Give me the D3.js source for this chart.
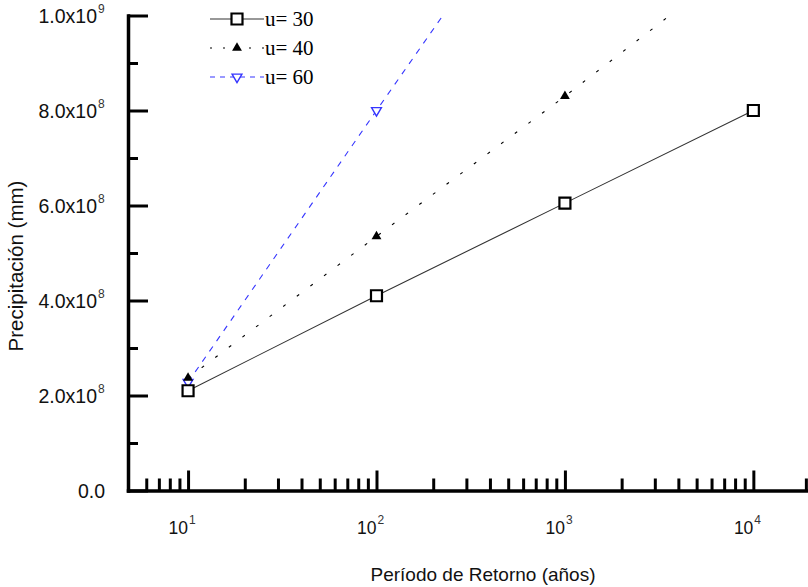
<!DOCTYPE html>
<html>
<head>
<meta charset="utf-8">
<script src="https://cdn.jsdelivr.net/npm/d3@7"></script>
<style>
  body { margin: 0; background: #fff; }
  svg { display: block; }
</style>
</head>
<body>
<div id="chart"></div>
<script>

// ---- data ----
const periods = [10, 100, 1000, 10000];
const u30 = [2.1e8, 4.1e8, 6.05e8, 8.0e8];
const u40 = [2.37e8, 5.35e8, 8.3e8];
const u60 = [2.28e8, 8.0e8];
// where the dotted / dashed lines leave the top of the frame
const u40End = [3600, 1.0e9];
const u60End = [225, 1.0e9];
const seriesNames = ['u= 30', 'u= 40', 'u= 60'];

const yTicks = [0, 1e8, 2e8, 3e8, 4e8, 5e8, 6e8, 7e8, 8e8, 9e8, 1e9];
const yLabelTicks = [0, 2e8, 4e8, 6e8, 8e8, 1e9];
const yLabelBase = ['0.0', '2.0x10', '4.0x10', '6.0x10', '8.0x10', '1.0x10'];
const yLabelExp = ['', '8', '8', '8', '8', '9'];

const xMajor = [10, 100, 1000, 10000];
const xMinor = [6, 7, 8, 9, 20, 30, 40, 50, 60, 70, 80, 90,
  200, 300, 400, 500, 600, 700, 800, 900,
  2000, 3000, 4000, 5000, 6000, 7000, 8000, 9000, 19000];
const xLabelExp = ['1', '2', '3', '4'];

const W = 808, H = 587;
const sans = 'Arial, "Liberation Sans", sans-serif';
const serif = '"Times New Roman", "Liberation Serif", serif';
const blue = '#3535ff';

const svg = d3.select('#chart').append('svg')
  .attr('width', W)
  .attr('height', H)
  .attr('viewBox', [0, 0, W, H]);

const xScale = d3.scaleLog()
  .domain([4.8, 19500])
  .range([128, 808]);

const yScale = d3.scaleLinear()
  .domain([0, 1e9])
  .range([490.5, 15.5]);

// ---- axes ----
const xAxis = svg.append('g')
  .attr('transform', 'translate(0,' + yScale(0) + ')')
  .call(d3.axisBottom(xScale)
    .tickValues(xMinor.concat(xMajor))
    .tickSize(-12)
    .tickSizeOuter(0)
    .tickFormat(''));

xAxis.selectAll('.tick line')
  .attr('stroke', '#000')
  .attr('stroke-width', 3)
  .attr('y2', d => xMajor.indexOf(d) != -1 ? -20 : -12);

const yAxis = svg.append('g')
  .attr('transform', 'translate(' + xScale(4.8) + ',0)')
  .call(d3.axisLeft(yScale)
    .tickValues(yTicks)
    .tickSize(-10)
    .tickSizeOuter(0)
    .tickFormat(''));

yAxis.selectAll('.tick line')
  .attr('stroke', '#000')
  .attr('stroke-width', 3)
  .attr('x2', d => yLabelTicks.indexOf(d) != -1 ? 20 : 10);

svg.selectAll('.domain')
  .attr('stroke', '#000')
  .attr('stroke-width', 3.5)
  .attr('stroke-linecap', 'square');

// y tick labels with superscript exponents
yLabelTicks.forEach((v, i) => {
  const yy = yScale(v) + 7;
  const hasExp = yLabelExp[i] != '';
  svg.append('text')
    .attr('x', hasExp ? 97 : 105)
    .attr('y', yy)
    .attr('text-anchor', 'end')
    .attr('font-family', sans)
    .attr('font-size', 19.5)
    .attr('fill', '#111')
    .text(yLabelBase[i]);
  if (hasExp) {
    svg.append('text')
      .attr('x', 98)
      .attr('y', yy - 10)
      .attr('font-family', sans)
      .attr('font-size', 12)
      .attr('fill', '#333')
      .text(yLabelExp[i]);
  }
});

// x tick labels 10^n
xMajor.forEach((v, i) => {
  const xx = xScale(v);
  svg.append('text')
    .attr('x', xx)
    .attr('y', 534)
    .attr('text-anchor', 'end')
    .attr('font-family', sans)
    .attr('font-size', 17.5)
    .attr('fill', '#111')
    .text('10');
  svg.append('text')
    .attr('x', xx + 1)
    .attr('y', 524)
    .attr('font-family', sans)
    .attr('font-size', 12)
    .attr('fill', '#333')
    .text(xLabelExp[i]);
});

// axis titles
svg.append('text')
  .attr('x', 483)
  .attr('y', 581)
  .attr('text-anchor', 'middle')
  .attr('font-family', sans)
  .attr('font-size', 19)
  .attr('fill', '#111')
  .text('Período de Retorno (años)');

svg.append('text')
  .attr('transform', 'translate(23,266) rotate(-90)')
  .attr('text-anchor', 'middle')
  .attr('font-family', sans)
  .attr('font-size', 20.5)
  .attr('fill', '#111')
  .text('Precipitación (mm)');

// ---- series ----
const line = d3.line()
  .x(d => xScale(d[0]))
  .y(d => yScale(d[1]));

const pts30 = u30.map((v, i) => [periods[i], v]);
const pts40 = u40.map((v, i) => [periods[i], v]);
const pts60 = u60.map((v, i) => [periods[i], v]);

svg.append('path')
  .datum(pts30)
  .attr('d', line)
  .attr('fill', 'none')
  .attr('stroke', '#333')
  .attr('stroke-width', 1.1);

svg.append('path')
  .datum(pts40.concat([u40End]))
  .attr('d', line)
  .attr('fill', 'none')
  .attr('stroke', '#000')
  .attr('stroke-width', 1.1)
  .attr('stroke-dasharray', '3,14');

svg.append('path')
  .datum(pts60.concat([u60End]))
  .attr('d', line)
  .attr('fill', 'none')
  .attr('stroke', blue)
  .attr('stroke-width', 1.1)
  .attr('stroke-dasharray', '6,6.5');

const square = d3.symbol(d3.symbolSquare, 121);
const triangle = d3.symbol(d3.symbolTriangle, 42);

const drawSquare = (g, xx, yy) => g.append('path')
  .attr('d', square)
  .attr('transform', 'translate(' + xx + ',' + yy + ')')
  .attr('fill', '#fff')
  .attr('stroke', '#000')
  .attr('stroke-width', 2.2);

const drawUp = (g, xx, yy) => g.append('path')
  .attr('d', triangle)
  .attr('transform', 'translate(' + xx + ',' + yy + ')')
  .attr('fill', '#000');

const drawDown = (g, xx, yy) => g.append('path')
  .attr('d', triangle)
  .attr('transform', 'translate(' + xx + ',' + yy + ') rotate(180)')
  .attr('fill', '#fff')
  .attr('stroke', blue)
  .attr('stroke-width', 1.4);

const marks = svg.append('g');
pts60.forEach(d => drawDown(marks, xScale(d[0]), yScale(d[1])));
pts40.forEach(d => drawUp(marks, xScale(d[0]), yScale(d[1])));
pts30.forEach(d => drawSquare(marks, xScale(d[0]), yScale(d[1])));

// ---- legend ----
const legend = svg.append('g');
const legRows = [19, 48, 77];
const legStroke = ['#333', '#000', blue];
const legDash = [null, '2,11', '5,5'];

seriesNames.forEach((name, i) => {
  const ly = legRows[i];
  legend.append('line')
    .attr('x1', 210).attr('x2', 264)
    .attr('y1', ly).attr('y2', ly)
    .attr('stroke', legStroke[i])
    .attr('stroke-width', 1.1)
    .attr('stroke-dasharray', legDash[i]);
  if (i == 0) drawSquare(legend, 237, ly);
  if (i == 1) drawUp(legend, 237, ly);
  if (i == 2) drawDown(legend, 237, ly);
  legend.append('text')
    .attr('x', 265)
    .attr('y', ly + 7)
    .attr('font-family', serif)
    .attr('font-size', 21)
    .attr('fill', '#000')
    .text(name);
});

</script>
</body>
</html>
